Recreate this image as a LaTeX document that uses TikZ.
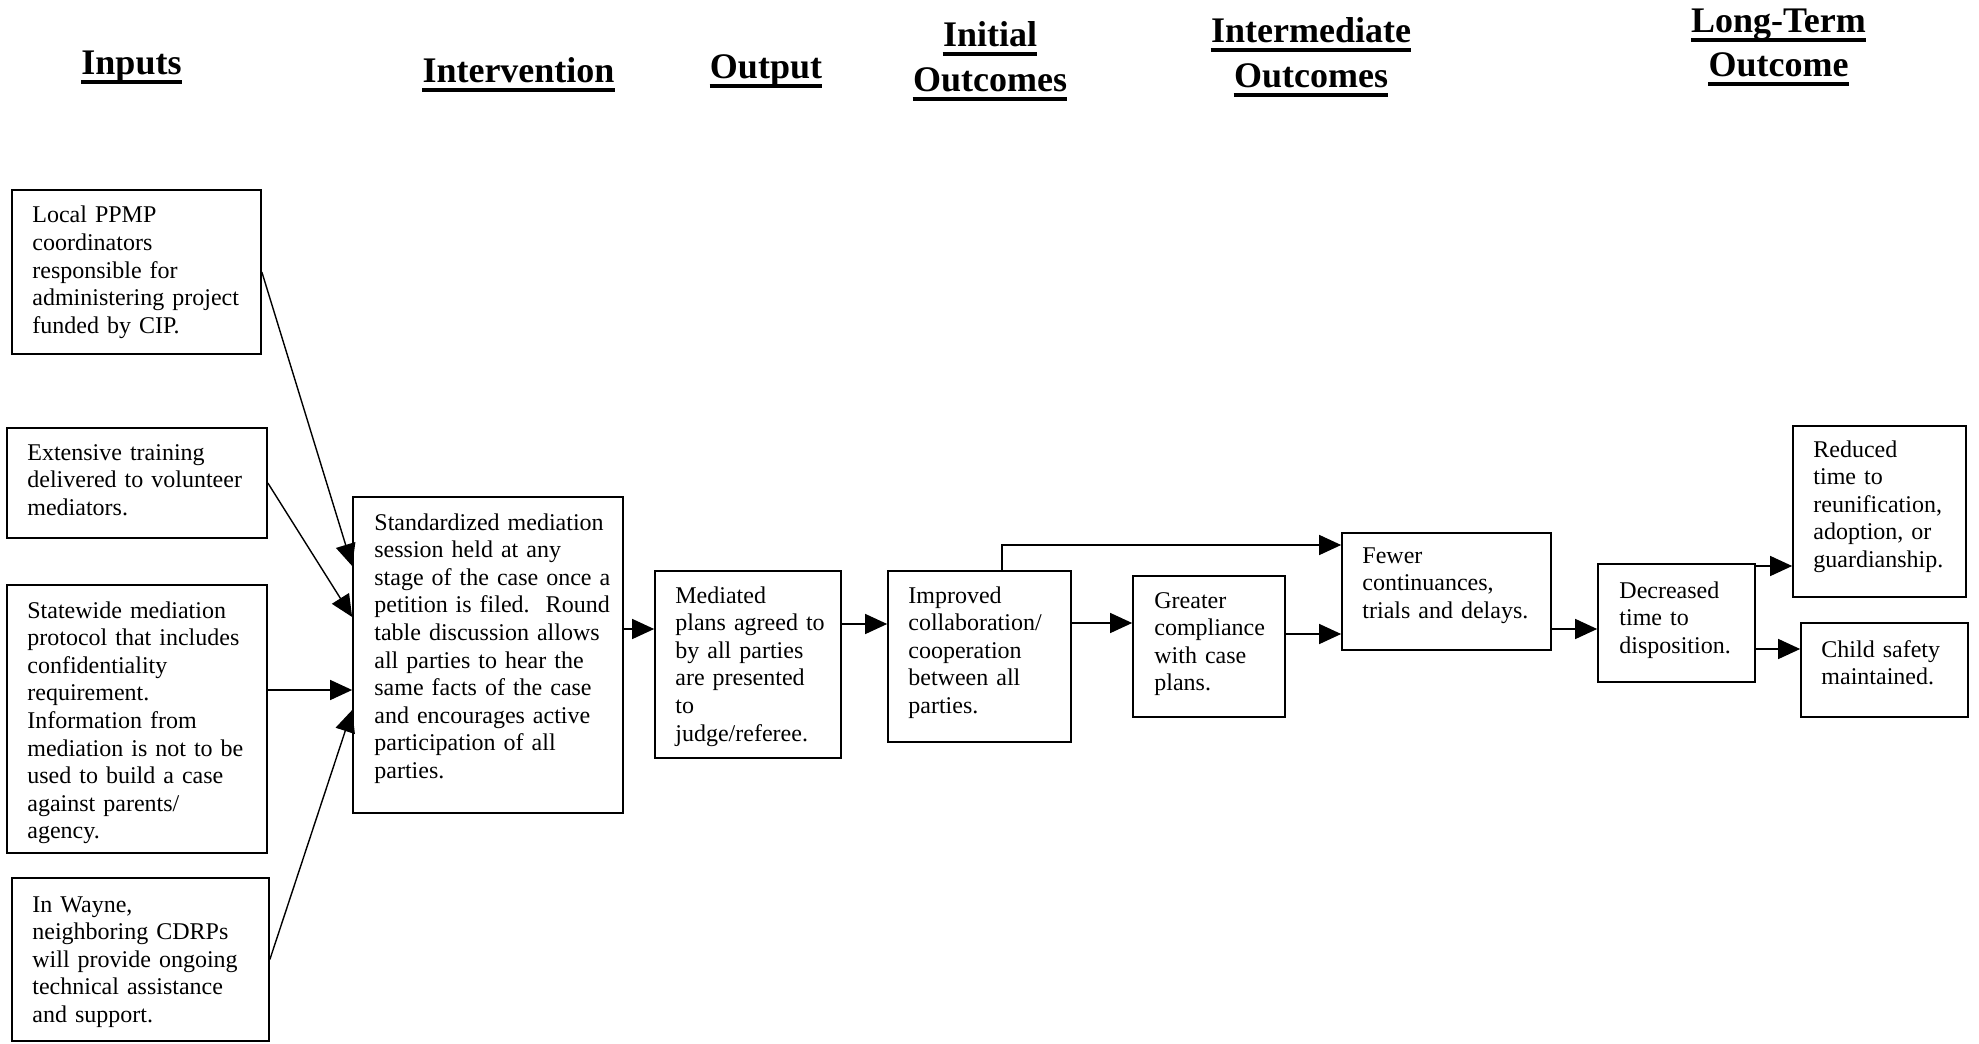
\documentclass[tikz,border=0pt]{standalone}
\usepackage{fontspec}
\setmainfont{Liberation Serif}
\usetikzlibrary{arrows.meta,fit}
\begin{document}
\frenchspacing
\begin{tikzpicture}[x=0.5pt,y=-0.5pt,
  box/.style={draw=black, line width=0.85pt, inner sep=0pt},
  txt/.style={anchor=base west, inner sep=0pt, text width=150pt, align=left,
              font=\fontsize{12}{13.8}\selectfont},
  head/.style={anchor=base, inner sep=0pt, font=\fontsize{18}{21}\selectfont\bfseries},
  uline/.style={line width=1.7pt},
  flow/.style={line width=0.7pt, -{Triangle[length=11pt,width=10pt]}}]
\useasboundingbox (0,0) rectangle (1979,1043);

% column headings, each line underlined
\node[head] (hIn) at (131.5,75) {Inputs};
\node[head] (hAct) at (518.5,83) {Intervention};
\node[head] (hOut) at (766,79) {Output};
\node[head] (hIniA) at (990,47) {Initial};
\node[head] (hIniB) at (990,92) {Outcomes};
\node[head] (hMidA) at (1311,43) {Intermediate};
\node[head] (hMidB) at (1311,88) {Outcomes};
\node[head] (hLongA) at (1778.5,33) {Long-Term};
\node[head] (hLongB) at (1778.5,77) {Outcome};
\foreach \h in {hIn,hAct,hOut,hIniA,hIniB,hMidA,hMidB,hLongA,hLongB}
  \draw[uline] ([yshift=-3.6pt]\h.base west) -- ([yshift=-3.6pt]\h.base east);

% boxes
\node[box, fit={(12,190) (261,354)}] (in1) {};
\node[box, fit={(7,428) (267,538)}] (in2) {};
\node[box, fit={(7,585) (267,853)}] (in3) {};
\node[box, fit={(12,878) (269,1041)}] (in4) {};
\node[box, fit={(353,497) (623,813)}] (act) {};
\node[box, fit={(655,571) (841,758)}] (outp) {};
\node[box, fit={(888,571) (1071,742)}] (ini) {};
\node[box, fit={(1133,576) (1285,717)}] (comp) {};
\node[box, fit={(1342,533) (1551,650)}] (few) {};
\node[box, fit={(1598,564) (1755,682)}] (dec) {};
\node[box, fit={(1793,426) (1966,597)}] (reu) {};
\node[box, fit={(1801,623) (1968,717)}] (safe) {};

% box texts
\node[txt] (t1) at (32,223) {Local PPMP\\coordinators\\responsible for\\administering project\\funded by CIP.};
\node[txt] (t2) at (27,460) {Extensive training\\delivered to volunteer\\mediators.};
\node[txt] (t3) at (27,618) {Statewide mediation\\protocol that includes\\confidentiality\\requirement.\\Information from\\mediation is not to be\\used to build a case\\against parents/\\agency.};
\node[txt] (t4) at (32,912) {In Wayne,\\neighboring CDRPs\\will provide ongoing\\technical assistance\\and support.};
\node[txt] (t5) at (374,530) {Standardized mediation\\session held at any\\stage of the case once a\\petition is filed.\ \ Round\\table discussion allows\\all parties to hear the\\same facts of the case\\and encourages active\\participation of all\\parties.};
\node[txt] (t6) at (675,603) {Mediated\\plans agreed to\\by all parties\\are presented\\to\\judge/referee.};
\node[txt] (t7) at (908,603) {Improved\\collaboration/\\cooperation\\between all\\parties.};
\node[txt] (t8) at (1154,608) {Greater\\compliance\\with case\\plans.};
\node[txt] (t9) at (1362,563) {Fewer\\continuances,\\trials and delays.};
\node[txt] (t10) at (1619,598) {Decreased\\time to\\disposition.};
\node[txt] (t11) at (1813,457) {Reduced\\time to\\reunification,\\adoption, or\\guardianship.};
\node[txt] (t12) at (1821,657) {Child safety\\maintained.};

% connectors
\draw[flow] (in1.east) -- (act.west |- 0,566);
\draw[flow] (in2.east) -- (act.west |- 0,617);
\draw[flow] (in3.east |- 0,690) -- (act.west |- 0,690);
\draw[flow] (in4.east) -- (act.west |- 0,710);
\draw[flow] (act.east |- 0,629) -- (outp.west |- 0,629);
\draw[flow] (outp.east |- 0,624) -- (ini.west |- 0,624);
\draw[flow] (ini.east |- 0,623) -- (comp.west |- 0,623);
\draw[flow] (ini.north -| 1002,0) |- (few.west |- 0,545);
\draw[flow] (comp.east |- 0,634) -- (few.west |- 0,634);
\draw[flow] (few.east |- 0,629) -- (dec.west |- 0,629);
\draw[flow] (dec.east |- 0,566) -- (reu.west |- 0,566);
\draw[flow] (dec.east |- 0,649) -- (safe.west |- 0,649);
\end{tikzpicture}
\end{document}
